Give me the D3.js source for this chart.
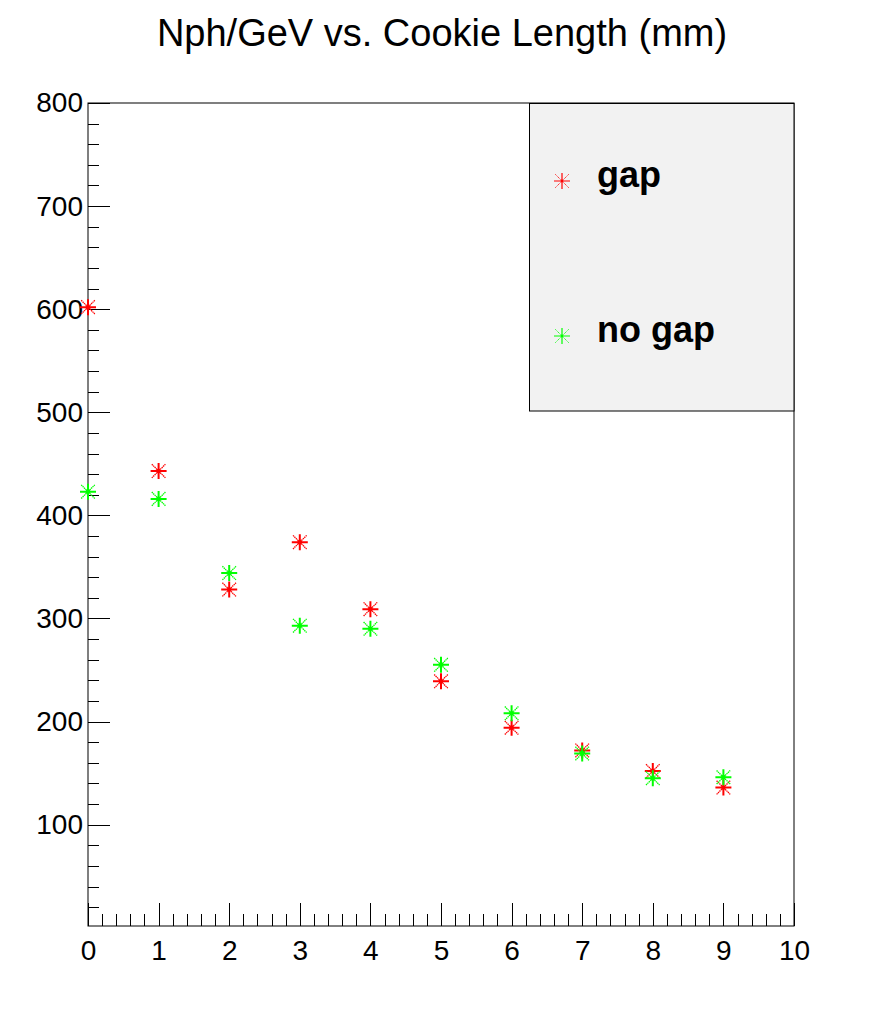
<!DOCTYPE html>
<html>
<head>
<meta charset="utf-8">
<script src="https://cdn.jsdelivr.net/npm/d3@7"></script>
<style>
  body { margin: 0; background: #fff; }
  text { font-family: "Liberation Sans", Arial, Helvetica, sans-serif; }
</style>
</head>
<body>
<div id="chart"></div>
<script>
// cookie length (mm)
var lengths = [0, 1, 2, 3, 4, 5, 6, 7, 8, 9];
var gapValues = [602, 443, 328, 374, 309, 239, 194, 172, 152, 136];
var noGapValues = [423, 416, 344, 293, 290, 255, 208, 169, 145, 146];
var xTicks = [0, 1, 2, 3, 4, 5, 6, 7, 8, 9, 10];
var yTicks = [100, 200, 300, 400, 500, 600, 700, 800];
var legendLabels = ["gap", "no gap"];
var title = "Nph/GeV vs. Cookie Length (mm)";

var W = 883, H = 1031;
var red = "#ff0000", green = "#00ff00";

var svg = d3.select("#chart").append("svg")
	.attr("width", W)
	.attr("height", H);

var x = d3.scaleLinear().domain([0, 10]).range([88, 794]);
var y = d3.scaleLinear().domain([1.7, 800]).range([926, 103]);

svg.append("text")
	.attr("x", 442)
	.attr("y", 46)
	.attr("text-anchor", "middle")
	.style("font-size", "38px")
	.text(title);

// frame
svg.append("rect")
	.attr("x", x(0))
	.attr("y", y(800))
	.attr("width", x(10) - x(0))
	.attr("height", y(1.7) - y(800))
	.attr("fill", "none")
	.attr("stroke", "#000")
	.attr("stroke-width", 1);

// x axis: minor then major
var minorX = d3.range(0, 10.001, 0.2);
svg.append("g")
	.attr("transform", "translate(0," + y(1.7) + ")")
	.call(d3.axisBottom(x).tickValues(minorX).tickSize(-12).tickSizeOuter(0).tickFormat(""))
	.call(g => g.select(".domain").remove());

var xAxis = svg.append("g")
	.attr("transform", "translate(0," + y(1.7) + ")")
	.call(d3.axisBottom(x).tickValues(xTicks).tickSize(-23).tickSizeOuter(0).tickPadding(14).tickFormat(d3.format("d")));
xAxis.select(".domain").remove();
xAxis.selectAll("text").style("font-size", "28px").attr("fill", "#000")
	.style("font-family", "'Liberation Sans', Arial, sans-serif");

// y axis
var minorY = d3.range(20, 800.1, 20);
svg.append("g")
	.attr("transform", "translate(" + x(0) + ",0)")
	.call(d3.axisLeft(y).tickValues(minorY).tickSize(-11).tickSizeOuter(0).tickFormat(""))
	.call(g => g.select(".domain").remove());

var yAxis = svg.append("g")
	.attr("transform", "translate(" + x(0) + ",0)")
	.call(d3.axisLeft(y).tickValues(yTicks).tickSize(-22).tickSizeOuter(0).tickPadding(5).tickFormat(d3.format("d")));
yAxis.select(".domain").remove();
yAxis.selectAll("text").style("font-size", "28px").attr("fill", "#000")
	.style("font-family", "'Liberation Sans', Arial, sans-serif");

svg.selectAll(".tick line").attr("stroke", "#000").attr("shape-rendering", "crispEdges");

// asterisk marker (ROOT style 3)
function drawMarker(g, color, size, w) {
	var a = size, b = size * 0.85;
	g.append("path")
		.attr("d", "M" + (-a) + ",0H" + a + "M0," + (-a) + "V" + a)
		.attr("stroke", color).attr("stroke-width", w).attr("fill", "none");
	g.append("path")
		.attr("d", "M" + (-b) + "," + (-b) + "L" + b + "," + b + "M" + (-b) + "," + b + "L" + b + "," + (-b))
		.attr("stroke", color).attr("stroke-width", w * 0.65).attr("fill", "none")
		.attr("stroke-dasharray", "1.4,0.6");
	g.append("circle").attr("r", w * 1.2).attr("fill", color);
}

function drawSeries(values, color) {
	var pts = svg.append("g").selectAll("g")
		.data(values)
		.enter()
		.append("g")
		.attr("transform", (d, i) => "translate(" + x(lengths[i]) + "," + y(d) + ")");
	pts.each(function() { drawMarker(d3.select(this), color, 8, 2); });
}

drawSeries(gapValues, red);
drawSeries(noGapValues, green);

// legend
var legend = svg.append("g");
legend.append("rect")
	.attr("x", 529.5)
	.attr("y", 103.5)
	.attr("width", 794 - 529.5)
	.attr("height", 411 - 103.5)
	.attr("fill", "#f2f2f2")
	.attr("stroke", "#000")
	.attr("stroke-width", 1);

var legendRows = [181, 336];
var legendColors = [red, green];
legendLabels.forEach(function(lab, i) {
	var g = legend.append("g").attr("transform", "translate(562," + legendRows[i] + ")");
	drawMarker(g, legendColors[i], 8, 1.2);
	legend.append("text")
		.attr("x", 597)
		.attr("y", legendRows[i] + 6)
		.style("font-size", "36px")
		.style("font-weight", "bold")
		.text(lab);
});
</script>
</body>
</html>
